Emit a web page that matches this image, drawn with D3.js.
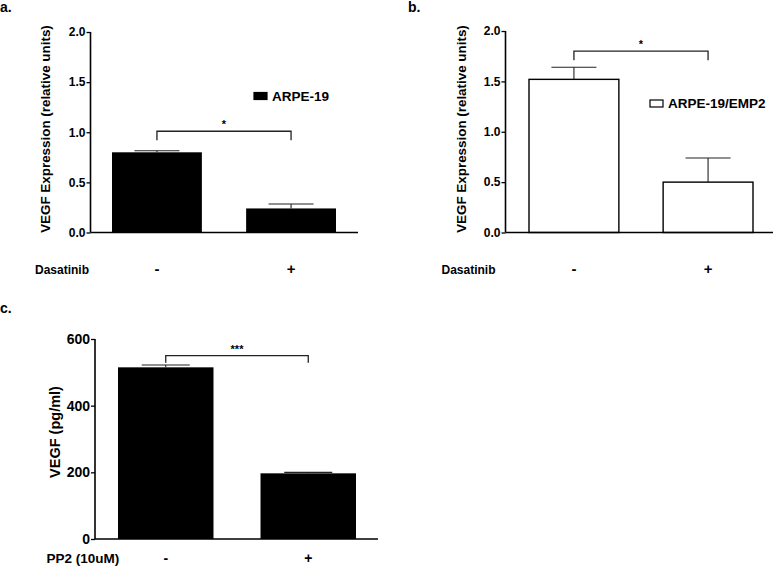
<!DOCTYPE html>
<html><head><meta charset="utf-8">
<script src="https://cdn.jsdelivr.net/npm/d3@7"></script>
<style>body{margin:0;background:#fff}svg{display:block}text{font-family:"Liberation Sans",Arial,sans-serif;font-weight:bold;fill:#000}</style>
</head><body>
<svg id="c" width="776" height="568"></svg>
<script>
// ---- data ----
const groups = ["-", "+"];
const aValues = [0.80, 0.24];
const aErrors = [0.016, 0.045];
const bValues = [1.52, 0.50];
const bErrors = [0.12, 0.24];
const cValues = [515, 197];
const cErrors = [7, 3];
const abTicks = [0.0, 0.5, 1.0, 1.5, 2.0];
const cTicks = [0, 200, 400, 600];
const aLegend = "ARPE-19";
const bLegend = "ARPE-19/EMP2";
const abYLabel = "VEGF Expression (relative units)";
const cYLabel = "VEGF (pg/ml)";
const abXLabel = "Dasatinib";
const cXLabel = "PP2 (10uM)";
const aSig = "*", bSig = "*", cSig = "***";

const svg = d3.select("#c");

function panel(o) {
  const g = svg.append("g");
  const y = d3.scaleLinear().domain(o.domain).range([o.y0, o.y1]);
  const x = d3.scaleBand().domain(groups).range([o.barL, o.barR]).paddingInner(0.33);
  // bars
  g.selectAll("rect.bar").data(o.values).join("rect")
    .attr("x", (d, i) => x(groups[i])).attr("width", x.bandwidth())
    .attr("y", d => y(d)).attr("height", d => y(0) - y(d))
    .attr("fill", o.fill).attr("stroke", "#000").attr("stroke-width", o.fill === "#fff" ? 1.4 : 0);
  // error bars
  o.values.forEach((v, i) => {
    const cx = x(groups[i]) + x.bandwidth() / 2;
    g.append("line").attr("x1", cx).attr("x2", cx).attr("y1", y(v)).attr("y2", y(v + o.errors[i]))
      .attr("stroke", "#222").attr("stroke-width", 1.1);
    g.append("line").attr("x1", cx - o.cap).attr("x2", cx + o.cap).attr("y1", y(v + o.errors[i])).attr("y2", y(v + o.errors[i]))
      .attr("stroke", "#222").attr("stroke-width", 1.1);
  });
  // y axis
  const ax = g.append("g").attr("transform", `translate(${o.axisX},0)`)
    .call(d3.axisLeft(y).tickValues(o.ticks).tickSize(4).tickPadding(1).tickFormat(o.fmt));
  ax.select(".domain").attr("stroke", "#000").attr("stroke-width", 1.6).attr("d", `M0,${o.y1}V${o.y0}`);
  ax.selectAll(".tick line").attr("stroke", "#000").attr("stroke-width", 1.3);
  ax.selectAll(".tick text").attr("font-size", o.tickFs).attr("font-family", "Liberation Sans, Arial").attr("font-weight", "bold").attr("fill", "#000");
  // x axis baseline
  g.append("line").attr("x1", o.axisX).attr("x2", o.axisEnd).attr("y1", y(0)).attr("y2", y(0))
    .attr("stroke", "#000").attr("stroke-width", 1.6);
  // y label
  g.append("text").attr("transform", `translate(${o.ylabX},${o.ylabY}) rotate(-90)`)
    .attr("text-anchor", "middle").attr("font-size", o.ylabFs).text(o.ylab);
  // x row label
  g.append("text").attr("x", o.xlabX).attr("y", o.rowY).attr("font-size", o.xlabFs).text(o.xlab);
  groups.forEach(gr => {
    const cx = x(gr) + x.bandwidth() / 2;
    g.append("text").attr("x", cx).attr("y", o.rowY).attr("text-anchor", "middle").attr("font-size", o.signFs).text(gr);
  });
  // significance bracket
  const xl = x(groups[0]) + x.bandwidth() / 2, xr = x(groups[1]) + x.bandwidth() / 2;
  const by = y(o.sigY);
  g.append("path").attr("d", `M${xl},${by + o.sigDrop}V${by}H${xr}V${by + o.sigDrop}`)
    .attr("fill", "none").attr("stroke", "#222").attr("stroke-width", 1.3);
  g.append("text").attr("x", (xl + xr) / 2).attr("y", by - 3).attr("text-anchor", "middle")
    .attr("font-size", 11).attr("font-weight", "normal").text(o.sig);
  // legend
  if (o.legend) {
    g.append("rect").attr("x", o.legX).attr("y", o.legY).attr("width", 13).attr("height", 7)
      .attr("fill", o.fill).attr("stroke", "#000").attr("stroke-width", 1.2);
    g.append("text").attr("x", o.legX + 18).attr("y", o.legY + 8).attr("font-size", 13.5).text(o.legend);
  }
  // panel letter
  g.append("text").attr("x", o.letX).attr("y", o.letY).attr("font-size", 14).text(o.letter);
}

const fmt1 = d3.format(".1f");
panel({domain: [0, 2], y0: 232.5, y1: 32, barL: 112, barR: 336, values: aValues, errors: aErrors, fill: "#000",
  cap: 22.5, axisX: 90.5, axisEnd: 358, ticks: abTicks, fmt: fmt1, tickFs: 12,
  ylab: abYLabel, ylabX: 50, ylabY: 129, ylabFs: 13.4, xlab: abXLabel, xlabX: 35, rowY: 274, xlabFs: 12, signFs: 15,
  sigY: 1.01, sigDrop: 9, sig: aSig, legend: aLegend, legX: 254, legY: 92.5, letter: "a.", letX: 0, letY: 12});
panel({domain: [0, 2], y0: 232.5, y1: 31, barL: 529, barR: 753, values: bValues, errors: bErrors, fill: "#fff",
  cap: 22.5, axisX: 505.5, axisEnd: 773, ticks: abTicks, fmt: fmt1, tickFs: 12,
  ylab: abYLabel, ylabX: 466, ylabY: 129, ylabFs: 13.4, xlab: abXLabel, xlabX: 441.5, rowY: 274, xlabFs: 12, signFs: 15,
  sigY: 1.80, sigDrop: 9, sig: bSig, legend: bLegend, legX: 650, legY: 100, letter: "b.", letX: 408, letY: 12});
panel({domain: [0, 600], y0: 539, y1: 339, barL: 118, barR: 356, values: cValues, errors: cErrors, fill: "#000",
  cap: 24, axisX: 95, axisEnd: 378, ticks: cTicks, fmt: d3.format("d"), tickFs: 14,
  ylab: cYLabel, ylabX: 60, ylabY: 432, ylabFs: 14.5, xlab: cXLabel, xlabX: 46.5, rowY: 563, xlabFs: 13.5, signFs: 14,
  sigY: 550, sigDrop: 7, sig: cSig, legend: null, letter: "c.", letX: 0, letY: 313});
</script>
</body></html>
